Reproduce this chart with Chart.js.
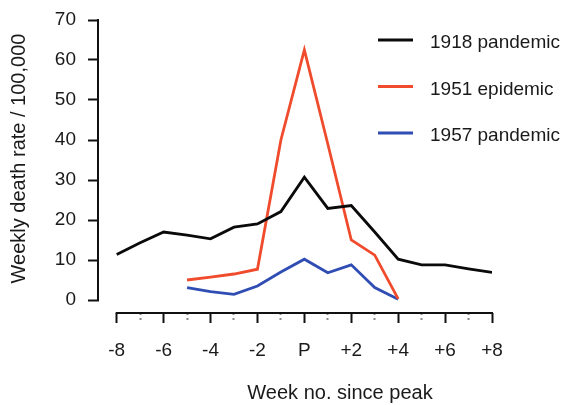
<!DOCTYPE html>
<html>
<head>
<meta charset="utf-8">
<script src="https://cdn.jsdelivr.net/npm/chart.js@4"></script>
<style>
html,body{margin:0;padding:0;background:#fff}
#wrap{width:572px;height:405px}
</style>
</head>
<body>
<div id="wrap"><canvas id="c" width="572" height="405"></canvas></div>
<script>
// ---- data ----
const weeks = [-8,-7,-6,-5,-4,-3,-2,-1,0,1,2,3,4,5,6,7,8];
const xTickLabels = ['-8','','-6','','-4','','-2','','P','','+2','','+4','','+6','','+8'];
const yTickValues = [0,10,20,30,40,50,60,70];
const seriesNames = ['1918 pandemic','1951 epidemic','1957 pandemic'];
const pandemic1918 = [11.4,14.3,17.0,16.2,15.3,18.2,19.0,22.1,30.7,22.9,23.6,17.0,10.2,8.8,8.8,7.8,6.9];
const epidemic1951 = [null,null,null,5.0,5.7,6.5,7.7,40.0,62.5,39.0,15.0,11.2,0.3,null,null,null,null];
const pandemic1957 = [null,null,null,3.1,2.1,1.4,3.5,7.0,10.2,6.8,8.8,3.1,0.2,null,null,null,null];
const seriesColors = ['#0a0a0a','#ef4b2c','#2f4db3'];

const FONT = "'Liberation Sans', Arial, sans-serif";
const TEXT = '#1a1a1a';

function toPoints(vals){
  return weeks.map((w,i)=>({x:w,y:vals[i]})).filter(p=>p.y!==null);
}

const axisLines = {
  id:'axisLines',
  afterDatasetsDraw(chart){
    const {ctx, scales:{x,y}, chartArea} = chart;
    ctx.save();
    ctx.strokeStyle = '#111';
    ctx.lineWidth = 2;
    ctx.lineCap = 'butt';
    ctx.beginPath();
    ctx.moveTo(chartArea.left - 1, y.getPixelForValue(yTickValues[yTickValues.length-1]) - 1);
    ctx.lineTo(chartArea.left - 1, y.getPixelForValue(yTickValues[0]) + 1);
    ctx.moveTo(x.getPixelForValue(weeks[0]) - 1, chartArea.bottom);
    ctx.lineTo(x.getPixelForValue(weeks[weeks.length-1]) + 1, chartArea.bottom);
    ctx.stroke();
    ctx.restore();
  }
};

const legendPlugin = {
  id:'insideLegend',
  afterDraw(chart){
    const ctx = chart.ctx;
    ctx.save();
    chart.data.datasets.forEach((ds,i)=>{
      const ly = 40 + i*46.5;
      ctx.strokeStyle = ds.borderColor;
      ctx.lineWidth = 3;
      ctx.beginPath();
      ctx.moveTo(378, ly);
      ctx.lineTo(413, ly);
      ctx.stroke();
      ctx.fillStyle = TEXT;
      ctx.font = '19px ' + FONT;
      ctx.textBaseline = 'middle';
      ctx.textAlign = 'left';
      ctx.fillText(ds.label, 430, ly + 3);
    });
    ctx.restore();
  }
};

// centre the x-axis title where the reference has it
const shiftXTitle = {
  id:'shiftXTitle',
  afterLayout(chart){
    const s = chart.scales.x;
    const d = 340 - (s.left + s.right)/2;
    s.left += d; s.right += d;
  }
};

new Chart(document.getElementById('c'), {
  type:'line',
  data:{
    datasets:[
      {label:seriesNames[0], data:toPoints(pandemic1918), borderColor:seriesColors[0]},
      {label:seriesNames[1], data:toPoints(epidemic1951), borderColor:seriesColors[1]},
      {label:seriesNames[2], data:toPoints(pandemic1957), borderColor:seriesColors[2]}
    ]
  },
  options:{
    responsive:false,
    animation:false,
    devicePixelRatio:1,
    layout:{padding:{top:4,left:0,right:80,bottom:0}},
    elements:{
      line:{borderWidth:2.8,tension:0,fill:false},
      point:{radius:0,hoverRadius:0}
    },
    plugins:{legend:{display:false},tooltip:{enabled:false}},
    scales:{
      x:{
        type:'linear',
        clip:false,
        min:-8.755, max:8,
        afterBuildTicks:(s)=>{ s.ticks = weeks.map(v=>({value:v})); },
        afterFit:(s)=>{ s.height = 92; s.paddingLeft=0; s.paddingRight=0; s.paddingTop=0; s.paddingBottom=0; },
        border:{display:false},
        grid:{
          drawOnChartArea:false, drawTicks:true, tickLength:10, tickWidth:2,
          tickColor:(c)=> (Math.abs(c.tick.value)%2===1 ? '#8a8a8a' : '#111'),
          tickBorderDash:(c)=> (Math.abs(c.tick.value)%2===1 ? [2,3] : [])
        },
        ticks:{
          autoSkip:false, maxRotation:0, padding:16, color:TEXT,
          font:{family:FONT,size:19},
          callback:(v)=>{ const i = weeks.indexOf(v); return i<0 ? '' : xTickLabels[i]; }
        },
        title:{display:true,text:'Week no. since peak',color:TEXT,font:{family:FONT,size:20},padding:{top:0,bottom:0}}
      },
      y:{
        type:'linear',
        clip:false,
        min:-3.25, max:74,
        afterBuildTicks:(s)=>{ s.ticks = yTickValues.map(v=>({value:v})); },
        afterFit:(s)=>{ s.width = 99; s.paddingLeft=0; s.paddingRight=0; s.paddingTop=0; s.paddingBottom=0; },
        border:{display:false},
        grid:{drawOnChartArea:false, drawTicks:true, tickLength:11, tickWidth:2, tickColor:'#111'},
        ticks:{padding:12, color:TEXT, font:{family:FONT,size:19}},
        title:{display:true,text:'Weekly death rate / 100,000',color:TEXT,font:{family:FONT,size:20},padding:{top:7,bottom:0}}
      }
    }
  },
  plugins:[axisLines, legendPlugin, shiftXTitle]
});
</script>
</body>
</html>
